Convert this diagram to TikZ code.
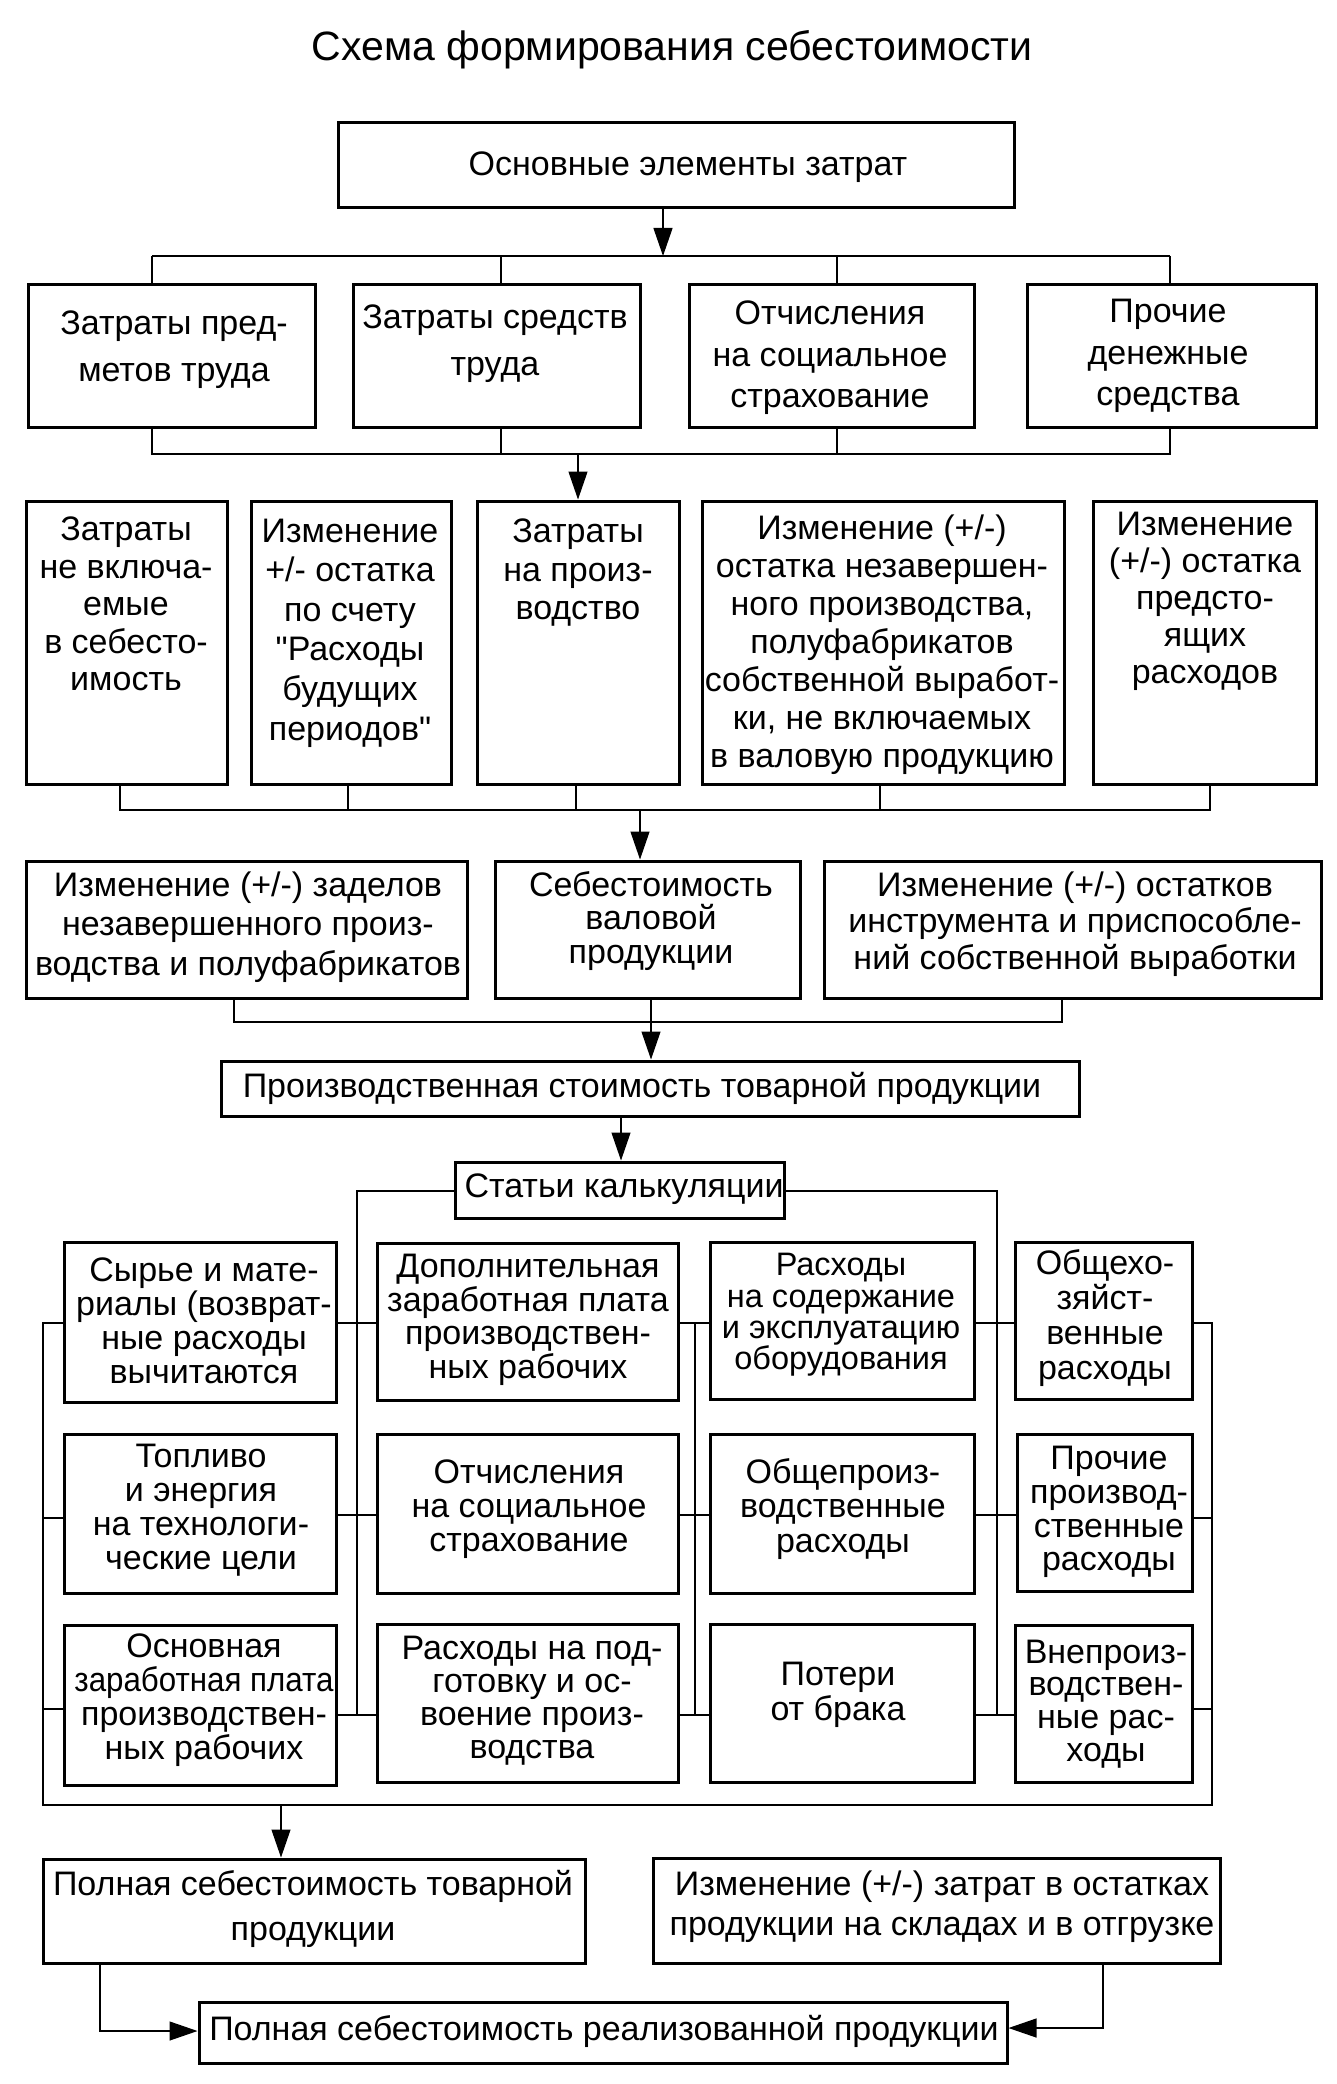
\documentclass[tikz,border=0pt]{standalone}
\usepackage{graphicx}
\usepackage{fontspec}
\setmainfont{Liberation Sans}[Ligatures=TeXOff]
\usetikzlibrary{arrows.meta,calc}
\newcommand\bx[5]{\node[box,minimum width={#4pt-#2pt},minimum height={#5pt-#3pt}] (#1) at ({(#2+#4)/2},{(#3+#5)/2}) {};}
\begin{document}
\begin{tikzpicture}[x=1pt,y=-1pt,
  box/.style={draw,line width=3pt,inner sep=0pt},
  txt/.style={align=center,inner sep=0pt,font=\fontsize{34}{#1}\selectfont},
  txt/.default=38.5,
  ln/.style={line width=1.2pt},
  arr/.style={line width=1.2pt,-{Triangle[length=28pt,width=19pt]}},
]
\useasboundingbox (0,0) rectangle (1336,2084);
\node[inner sep=0pt,font=\fontsize{41}{45}\selectfont] (title) at (672,50) {Схема формирования себестоимости};

% main
\bx{main}{338}{123}{1014}{208}
\node[txt] (maint) at (688,167) {Основные элементы затрат};

% row 2
\bx{ra}{28}{284}{315}{427}
\bx{rb}{353}{284}{640}{427}
\bx{rc}{689}{284}{974}{427}
\bx{rd}{1027}{284}{1316}{427}
\node[txt=47] (rat) at (174,350) {Затраты пред-\\метов труда};
\node[txt=47] (rbt) at (495,344) {Затраты средств\\труда};
\node[txt=41.5] (rct) at (830,358) {Отчисления\\на социальное\\страхование};
\node[txt=41.5] (rdt) at (1168,356) {Прочие\\денежные\\средства};

% row 3
\bx{sa}{26}{501}{227}{784}
\bx{sb}{251}{501}{451}{784}
\bx{sc}{477}{501}{679}{784}
\bx{sd}{702}{501}{1064}{784}
\bx{se}{1093}{501}{1316}{784}
\node[txt=37.5] (sat) at (126,604) {Затраты\\не включа-\\емые\\в себесто-\\имость};
\node[txt=39.6] (sbt) at (350,633) {Изменение\\+/- остатка\\по счету\\"Расходы\\будущих\\периодов"};
\node[txt=38.5] (sct) at (578,573) {Затраты\\на произ-\\водство};
\node[txt=38] (sdt) at (882,645) {Изменение (+/-)\\остатка незавершен-\\ного производства,\\полуфабрикатов\\собственной выработ-\\ки, не включаемых\\в валовую продукцию};
\node[txt=37] (set) at (1205,601) {Изменение\\(+/-) остатка\\предсто-\\ящих\\расходов};

% row 4
\bx{ta}{26}{861}{467}{998}
\bx{tb}{495}{861}{800}{998}
\bx{tc}{824}{861}{1321}{998}
\node[txt=39.5] (tat) at (248,927) {Изменение (+/-) заделов\\незавершенного произ-\\водства и полуфабрикатов};
\node[txt=33.5] (tbt) at (651,921) {Себестоимость\\валовой\\продукции};
\node[txt=36.5] (tct) at (1075,924) {Изменение (+/-) остатков\\инструмента и приспособле-\\ний собственной выработки};

% production cost
\bx{pst}{221}{1061}{1079}{1116}
\node[txt] (pstt) at (642,1088) {Производственная стоимость товарной продукции};
\bx{stat}{455}{1162}{784}{1218}
\node[txt] (statt) at (624,1189) {Статьи калькуляции};

% calculation grid
\bx{ua}{64}{1242}{336}{1402}
\bx{ub}{64}{1434}{336}{1593}
\bx{uc}{64}{1625}{336}{1785}
\bx{va}{377}{1243}{678}{1400}
\bx{vb}{377}{1434}{678}{1593}
\bx{vc}{377}{1624}{678}{1782}
\bx{wa}{710}{1242}{974}{1399}
\bx{wb}{710}{1434}{974}{1593}
\bx{wc}{710}{1624}{974}{1782}
\bx{xa}{1015}{1242}{1192}{1399}
\bx{xb}{1017}{1434}{1192}{1591}
\bx{xc}{1015}{1625}{1192}{1782}
\node[txt=34] (uat) at (204,1321) {Сырье и мате-\\риалы (возврат-\\ные расходы\\вычитаются};
\node[txt=34] (ubt) at (201,1510) {Топливо\\и энергия\\на технологи-\\ческие цели};
\node[txt=34] (uct) at (204,1700) {Основная\\\scalebox{0.92}[1]{заработная плата}\\производствен-\\ных рабочих};
\node[txt=33.5] (vat) at (528,1320) {Дополнительная\\заработная плата\\производствен-\\ных рабочих};
\node[txt=34] (vbt) at (529,1509) {Отчисления\\на социальное\\страхование};
\node[txt=33] (vct) at (532,1701) {Расходы на под-\\готовку и ос-\\воение произ-\\водства};
\node[txt=31.3,font=\fontsize{32.5}{31.3}\selectfont] (wat) at (841,1315) {Расходы\\на содержание\\и эксплуатацию\\оборудования};
\node[txt=34.5] (wbt) at (843,1509) {Общепроиз-\\водственные\\расходы};
\node[txt=35] (wct) at (838,1695) {Потери\\от брака};
\node[txt=34.7] (xat) at (1105,1318) {Общехо-\\зяйст-\\венные\\расходы};
\node[txt=33.7] (xbt) at (1109,1512) {Прочие\\производ-\\ственные\\расходы};
\node[txt=32.7] (xct) at (1106,1704) {Внепроиз-\\водствен-\\ные рас-\\ходы};

% bottom
\bx{full}{43}{1859}{585}{1963}
\bx{chg}{653}{1858}{1220}{1963}
\bx{real}{199}{2002}{1007}{2063}
\node[txt=45] (fullt) at (313,1909) {Полная себестоимость товарной\\продукции};
\node[txt=40] (chgt) at (942,1907) {Изменение (+/-) затрат в остатках\\продукции на складах и в отгрузке};
\node[txt] (realt) at (604,2031) {Полная себестоимость реализованной продукции};

% junction coordinates
\coordinate (b1) at (663,256);
\coordinate (b2) at (578,454);
\coordinate (b3) at (640,810);
\coordinate (b4) at (651,1022);
\coordinate (gl) at (357,1191);
\coordinate (gr) at (997,1191);
\coordinate (gm) at (695,1323);
\coordinate (ol) at (43,1323);
\coordinate (or) at (1212,1323);
\coordinate (ob) at (281,1805);

% connectors top
\draw[arr] (main.south -| b1) -- (b1);
\draw[ln] (152,256) coordinate (b1l) -- (1170,256) coordinate (b1r);
\draw[ln] (b1l) -- (b1l |- ra.north);
\draw[ln] (501,256) -- (501,284 |- rb.north);
\draw[ln] (837,256) -- (837,284 |- rc.north);
\draw[ln] (b1r) -- (b1r |- rd.north);

\draw[ln] (ra.south -| b1l) -- (b1l |- b2) -- (b1r |- b2) -- (rd.south -| b1r);
\draw[ln] (rb.south -| 501,0) -- (501,454);
\draw[ln] (rc.south -| 837,0) -- (837,454);
\draw[arr] (b2) -- (b2 |- sc.north);

\draw[ln] (sa.south -| 120,0) -- (120,810) -- (1210,810) -- (se.south -| 1210,0);
\draw[ln] (sb.south -| 348,0) -- (348,810);
\draw[ln] (sc.south -| 576,0) -- (576,810);
\draw[ln] (sd.south -| 880,0) -- (880,810);
\draw[arr] (b3) -- (b3 |- ta.north);

\draw[ln] (ta.south -| 234,0) -- (234,1022) -- (1062,1022) -- (tc.south -| 1062,0);
\draw[ln] (tb.south -| b4) -- (b4);
\draw[arr] (b4) -- (b4 |- pst.north);

\draw[arr] (pst.south -| 621,0) -- (stat.north -| 621,0);

% grid
\draw[ln] (stat.west |- gl) -- (gl) -- (357,1715);
\draw[ln] (stat.east |- gr) -- (gr) -- (997,1715);
\draw[ln] (gm) -- (695,1715);
\foreach \y/\l/\r in {1323/ua/va, 1515/ub/vb, 1715/uc/vc} {
  \draw[ln] (\l.east |- 0,\y) -- (\r.west |- 0,\y);
}
\foreach \y/\l/\r in {1323/va/wa, 1515/vb/wb, 1715/vc/wc} {
  \draw[ln] (\l.east |- 0,\y) -- (\r.west |- 0,\y);
}
\foreach \y/\l/\r in {1323/wa/xa, 1515/wb/xb, 1715/wc/xc} {
  \draw[ln] (\l.east |- 0,\y) -- (\r.west |- 0,\y);
}
\draw[ln] (ua.west |- ol) -- (ol) -- (43,1805) -- (1212,1805) -- (or) -- (xa.east |- or);
\draw[ln] (43,1518) -- (ub.west |- 0,1518);
\draw[ln] (43,1709) -- (uc.west |- 0,1709);
\draw[ln] (1212,1518) -- (xb.east |- 0,1518);
\draw[ln] (1212,1709) -- (xc.east |- 0,1709);
\draw[arr] (ob) -- (ob |- full.north);

% bottom connectors
\draw[arr] (full.south -| 100,0) -- (100,2031) -- (real.west |- 0,2031);
\draw[arr] (chg.south -| 1103,0) -- (1103,2028) -- (real.east |- 0,2028);
\end{tikzpicture}
\end{document}
